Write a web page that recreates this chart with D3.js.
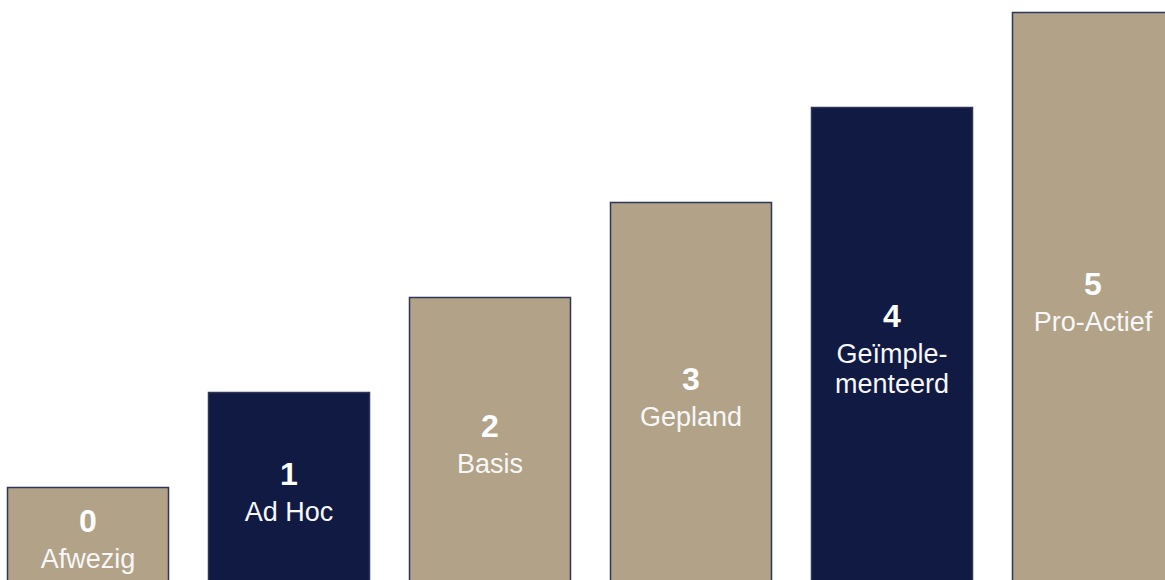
<!DOCTYPE html>
<html>
<head>
<meta charset="utf-8">
<script src="https://cdn.jsdelivr.net/npm/d3@7"></script>
<style>
  html, body { margin: 0; padding: 0; background: #ffffff; overflow: hidden; }
  svg { display: block; }
</style>
</head>
<body>
<svg id="chart" width="1165" height="580"></svg>
<script>
// Data
const levels = ["0", "1", "2", "3", "4", "5"];
const names = ["Afwezig", "Ad Hoc", "Basis", "Gepland", "Geïmple-\nmenteerd", "Pro-Actief"];
const heights = [1, 2, 3, 4, 5, 6];
const highlighted = ["1", "4"];

const W = 1165, H = 580;
const svg = d3.select("#chart");

const step = 201, band = 161;
const x = d3.scaleBand()
  .domain(levels)
  .range([7.5 - (step - band) / 2, 7.5 - (step - band) / 2 + levels.length * step])
  .paddingInner((step - band) / step)
  .paddingOuter((step - band) / 2 / step);

const y = d3.scaleLinear().domain([0, 6]).range([582.5, 12.5]);

const tan = "#b1a288", navy = "#111a43", edge = "#2f3658";

const data = levels.map((l, i) => ({ level: l, name: names[i], h: heights[i] }));

const g = svg.selectAll("g.bar").data(data).enter().append("g").attr("class", "bar");

g.append("rect")
  .attr("x", d => x(d.level))
  .attr("y", d => y(d.h))
  .attr("width", x.bandwidth())
  .attr("height", d => y(0) - y(d.h))
  .attr("fill", d => highlighted.includes(d.level) ? navy : tan)
  .attr("stroke", edge)
  .attr("stroke-width", 1.5);

g.each(function (d) {
  const sel = d3.select(this);
  const cx = x(d.level) + x.bandwidth() / 2;
  const top = y(d.h);
  const center = (top + H) / 2;
  const lines = d.name.split("\n");
  const numBase = center - 1.5 - 15 * (lines.length - 1);
  sel.append("text")
    .attr("x", cx)
    .attr("y", numBase)
    .attr("text-anchor", "middle")
    .attr("font-family", "Liberation Sans, Arial, sans-serif")
    .attr("font-weight", "bold")
    .attr("font-size", 32)
    .attr("fill", "#ffffff")
    .text(d.level);
  lines.forEach((ln, k) => {
    sel.append("text")
      .attr("x", cx)
      .attr("y", numBase + 36 + 30 * k)
      .attr("text-anchor", "middle")
      .attr("font-family", "Liberation Sans, Arial, sans-serif")
      .attr("font-size", 27)
      .attr("fill", "#f7f7f7")
      .text(ln);
  });
});
</script>
</body>
</html>
